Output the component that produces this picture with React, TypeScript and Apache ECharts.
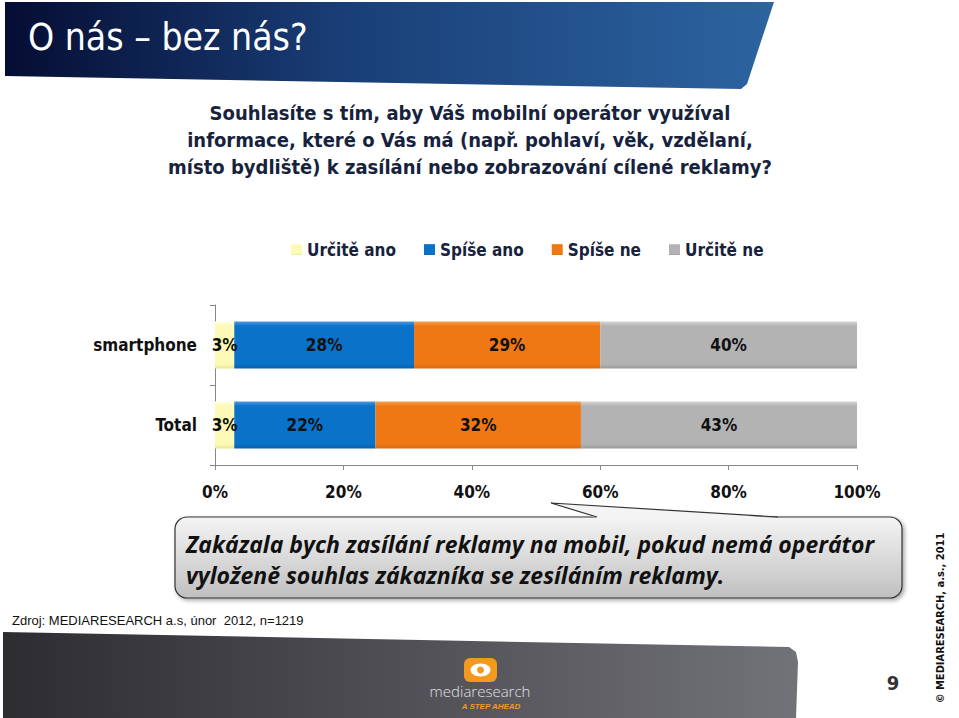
import React, { useEffect, useRef } from "react";
import * as echarts from "echarts";

const categories = ["smartphone", "Total"];
const seriesNames = ["Určitě ano", "Spíše ano", "Spíše ne", "Určitě ne"];
const urciteAno = [3, 3];
const spiseAno = [28, 22];
const spiseNe = [29, 32];
const urciteNe = [40, 43];
const xTicks = [0, 20, 40, 60, 80, 100];

const titleText = "O nás – bez nás?";
const questionLines = [
  "Souhlasíte s tím, aby Váš mobilní operátor využíval",
  "informace, které o Vás má (např. pohlaví, věk, vzdělaní,",
  "místo bydliště) k zasílání nebo zobrazování cílené reklamy?",
];
const calloutLines = [
  "Zakázala bych zasílání reklamy na mobil, pokud nemá operátor",
  "vyloženě souhlas zákazníka se zesíláním reklamy.",
];
const sourceText = "Zdroj: MEDIARESEARCH a.s, únor  2012, n=1219";
const copyrightText = "© MEDIARESEARCH, a.s., 2011";
const pageNumber = "9";

const colors = ["#fdfab8", "#0a72c9", "#f07814", "#b3b3b3"];
const lighter = ["#ffffe0", "#4a9be0", "#f8a050", "#d4d4d4"];
const darker = ["#e8e49a", "#0860aa", "#d86a10", "#9a9a9a"];

const FONT = "'DejaVu Sans Condensed', 'DejaVu Sans', sans-serif";

function grad(i: number) {
  return {
    type: "linear",
    x: 0,
    y: 0,
    x2: 0,
    y2: 1,
    colorStops: [
      { offset: 0, color: lighter[i] },
      { offset: 0.1, color: colors[i] },
      { offset: 0.9, color: colors[i] },
      { offset: 1, color: darker[i] },
    ],
  };
}

export default function App() {
  const ref = useRef<HTMLDivElement>(null);
  useEffect(() => {
    if (!ref.current) return;
    const chart = echarts.init(ref.current, undefined, { renderer: "svg" });
    const values = [urciteAno, spiseAno, spiseNe, urciteNe];
    const series = values.map((v, i) => ({
      name: seriesNames[i],
      type: "bar",
      stack: "total",
      barWidth: "59%",
      data: v,
      itemStyle: { color: grad(i) },
      label: {
        show: true,
        position: "inside",
        formatter: "{c}%",
        color: "#111",
        fontFamily: FONT,
        fontWeight: "bold",
        fontSize: 17,
      },
      emphasis: { disabled: true },
    }));

    const graphic: any[] = [
      {
        type: "polygon",
        shape: {
          points: [
            [5, 2],
            [774, 2],
            [747, 84],
            [741, 89],
            [5, 76],
          ],
        },
        style: {
          fill: {
            type: "linear",
            x: 0,
            y: 0,
            x2: 1,
            y2: 0,
            colorStops: [
              { offset: 0, color: "#050d33" },
              { offset: 0.45, color: "#1a3f78" },
              { offset: 1, color: "#2c64a0" },
            ],
          },
        },
      },
      {
        type: "text",
        x: 28,
        y: 37,
        style: {
          text: titleText,
          fill: "#ffffff",
          font: `37px ${FONT}`,
          textVerticalAlign: "middle",
        },
      },
      ...questionLines.map((t, i) => ({
        type: "text",
        x: 470,
        y: 113 + i * 27,
        style: {
          text: t,
          fill: "#17223d",
          font: `bold 20px ${FONT}`,
          textAlign: "center",
          textVerticalAlign: "middle",
        },
      })),
      {
        type: "rect",
        shape: { x: 175, y: 517, width: 727, height: 81, r: 12 },
        style: {
          fill: {
            type: "linear",
            x: 0,
            y: 0,
            x2: 0,
            y2: 1,
            colorStops: [
              { offset: 0, color: "#f4f4f4" },
              { offset: 1, color: "#c0c0c0" },
            ],
          },
          stroke: "#333",
          lineWidth: 1.2,
          shadowBlur: 4,
          shadowColor: "rgba(0,0,0,0.35)",
          shadowOffsetX: 2,
          shadowOffsetY: 2,
        },
      },
      {
        type: "polygon",
        shape: {
          points: [
            [597, 518],
            [551, 503],
            [778, 518],
          ],
        },
        style: { fill: "#f4f4f4", stroke: "none" },
      },
      {
        type: "polyline",
        shape: {
          points: [
            [597, 517],
            [551, 503],
            [778, 517],
          ],
        },
        style: { stroke: "#333", lineWidth: 1.2, fill: "none" },
      },
      ...calloutLines.map((t, i) => ({
        type: "text",
        x: 186,
        y: 544 + i * 31,
        style: {
          text: t,
          fill: "#111",
          font: `italic bold 23px 'Open Sans', sans-serif`,
          textVerticalAlign: "middle",
        },
      })),
      {
        type: "text",
        x: 12,
        y: 620,
        style: {
          text: sourceText,
          fill: "#111",
          font: `13px 'Liberation Sans Narrow', 'Liberation Sans', sans-serif`,
          textVerticalAlign: "middle",
        },
      },
      {
        type: "polygon",
        shape: {
          points: [
            [3, 632],
            [789, 647],
            [796, 652],
            [798, 662],
            [796, 718],
            [3, 718],
          ],
        },
        style: {
          fill: {
            type: "linear",
            x: 0,
            y: 0,
            x2: 1,
            y2: 0,
            colorStops: [
              { offset: 0, color: "#2c2c31" },
              { offset: 1, color: "#727279" },
            ],
          },
        },
      },
      {
        type: "rect",
        shape: { x: 464, y: 658, width: 33, height: 24, r: 6 },
        style: { fill: "#f39a1e" },
      },
      {
        type: "ellipse",
        shape: { cx: 480.5, cy: 670, rx: 10, ry: 6.5 },
        style: { fill: "#ffffff" },
      },
      {
        type: "circle",
        shape: { cx: 480.5, cy: 670, r: 3.5 },
        style: { fill: "#f39a1e" },
      },
      {
        type: "text",
        x: 480,
        y: 691,
        style: {
          text: "mediaresearch",
          fill: "#e0e0e0",
          font: `300 15px 'Open Sans', sans-serif`,
          textAlign: "center",
          textVerticalAlign: "middle",
        },
      },
      {
        type: "text",
        x: 491,
        y: 706,
        style: {
          text: "A STEP AHEAD",
          fill: "#f39a1e",
          font: `italic bold 8px 'Liberation Sans', sans-serif`,
          textAlign: "center",
          textVerticalAlign: "middle",
        },
      },
      {
        type: "text",
        x: 893,
        y: 683,
        style: {
          text: pageNumber,
          fill: "#333",
          font: `bold 20px ${FONT}`,
          textAlign: "center",
          textVerticalAlign: "middle",
        },
      },
      {
        type: "text",
        x: 940,
        y: 618,
        rotation: Math.PI / 2,
        style: {
          text: copyrightText,
          fill: "#111",
          font: `bold 11px ${FONT}`,
          textAlign: "center",
          textVerticalAlign: "middle",
        },
      },
    ];

    chart.setOption({
      animation: false,
      backgroundColor: "#ffffff",
      legend: {
        data: seriesNames,
        left: 286,
        top: 236,
        icon: "rect",
        itemWidth: 11,
        itemHeight: 11,
        itemGap: 28,
        textStyle: {
          fontFamily: FONT,
          fontWeight: "bold",
          fontSize: 17,
          color: "#17223d",
        },
        selectedMode: false,
      },
      grid: { left: 215, right: 102, top: 305, bottom: 253 },
      xAxis: {
        type: "value",
        min: xTicks[0],
        max: xTicks[xTicks.length - 1],
        interval: 20,
        splitLine: { show: false },
        axisLine: { show: true, lineStyle: { color: "#888" } },
        axisTick: { show: true, length: 5, lineStyle: { color: "#888" } },
        axisLabel: {
          formatter: "{value}%",
          margin: 18,
          color: "#111",
          fontFamily: FONT,
          fontWeight: "bold",
          fontSize: 17,
        },
      },
      yAxis: {
        type: "category",
        data: categories,
        inverse: true,
        axisLine: { show: true, lineStyle: { color: "#888" } },
        axisTick: { show: true, length: 5, lineStyle: { color: "#888" } },
        axisLabel: {
          margin: 18,
          color: "#111",
          fontFamily: FONT,
          fontWeight: "bold",
          fontSize: 17,
        },
      },
      series,
      graphic,
    });
    return () => chart.dispose();
  }, []);
  return (
    <div
      ref={ref}
      style={{ position: "absolute", left: 0, top: 0, width: 959, height: 718 }}
    />
  );
}
